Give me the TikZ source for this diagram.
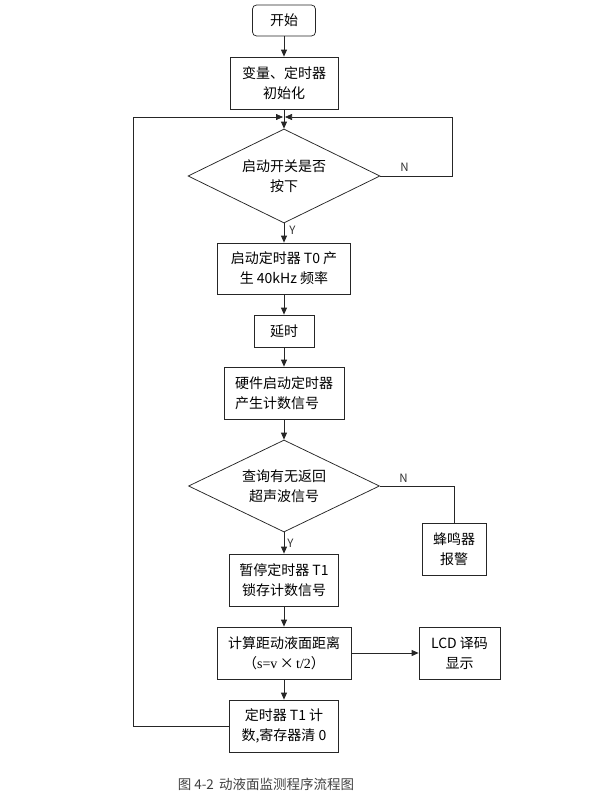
\documentclass[tikz,border=0pt]{standalone}
\usepackage{fontspec}
\setmainfont{Noto Sans CJK SC}
\newfontfamily\romanx{Liberation Serif}
\usetikzlibrary{positioning,arrows.meta}
\usetikzlibrary{shapes.geometric}
\tikzset{every picture/.style={line width=0.75pt}}
\tikzset{
  box/.style={draw=black!85, align=center, inner sep=0pt, minimum height=52pt,
    font=\fontsize{14}{20}\selectfont},
  decide/.style={draw=black!85, diamond, aspect=2, inner sep=0pt, align=center,
    minimum width=192pt, minimum height=94pt, font=\fontsize{14}{20}\selectfont},
  arr/.style={draw=black!85, -{Triangle[length=7pt,width=6pt]}},
  line/.style={draw=black!85},
  yn/.style={font=\fontsize{11.5}{13}\selectfont, inner sep=0pt, text=black!80}
}
\begin{document}
\begin{tikzpicture}[x=1pt,y=-1pt]
\useasboundingbox (0,0) rectangle (592,807);
% main column
\node[box, rounded corners=4pt, minimum width=63pt, minimum height=31pt] (start) at (284,20.5) {开始};
\node[box, minimum width=108pt] (init) at (284,83) {变量、定时器\\初始化};
\node[decide] (d1) at (284,176) {启动开关是否\\按下};
\node[box, minimum width=133pt, minimum height=51pt] (t0) at (284,268.5) {启动定时器 T0 产\\生 40kHz 频率};
\node[box, minimum width=60pt, minimum height=32pt] (delay) at (284,331) {延时};
\node[box, minimum width=120pt, align=left] (hw) at (284,393) {硬件启动定时器\\产生计数信号};
\node[decide, minimum width=191pt, minimum height=92pt] (d2) at (284,486) {查询有无返回\\超声波信号};
\node[box, minimum width=109pt] (pause) at (284,580) {暂停定时器 T1\\锁存计数信号};
\node[box, minimum width=134pt] (calc) at (284,653) {计算距动液面距离\\（{\romanx s=v}\,×\,{\romanx t/2}）};
\node[box, minimum width=109pt] (timer) at (284,726) {定时器 T1 计\\数,寄存器清 0};
% side boxes
\node[box, minimum width=64pt] (buzz) at (454,549) {蜂鸣器\\报警};
\node[box, minimum width=81pt] (lcd) at (459.5,653) {LCD 译码\\显示};
% loop corners
\coordinate (join) at (284,117);
\coordinate (lft) at (133,117);
\coordinate (rgt) at (452,117);
% arrows
\path[arr] (start) -- (init);
\path[arr] (init) -- (d1);
\path[arr] (d1) -- (t0);
\path[arr] (t0) -- (delay);
\path[arr] (delay) -- (hw);
\path[arr] (hw) -- (d2);
\path[arr] (d2) -- (pause);
\path[arr] (pause) -- (calc);
\path[arr] (calc) -- (timer);
\path[arr] (calc) -- (lcd);
\path[line] (d2.east) -| (buzz.north);
\path[arr, shorten >=1pt] (timer.west) -- (timer.west -| lft) -- (lft) -- (join);
\path[arr, shorten >=1pt] (d1.east) -- (d1.east -| rgt) -- (rgt) -- (join);
% labels
\node[yn, anchor=west] (n1) at (400,167) {N};
\node[yn, anchor=west] (y1) at (289,230) {Y};
\node[yn, anchor=west] (n2) at (399,478) {N};
\node[yn, anchor=west] (y2) at (287,543) {Y};
\node[font=\fontsize{13.5}{16}\selectfont, text=black!75] (cap) at (266,784) {图 4-2\, 动液面监测程序流程图};
\end{tikzpicture}
\end{document}
